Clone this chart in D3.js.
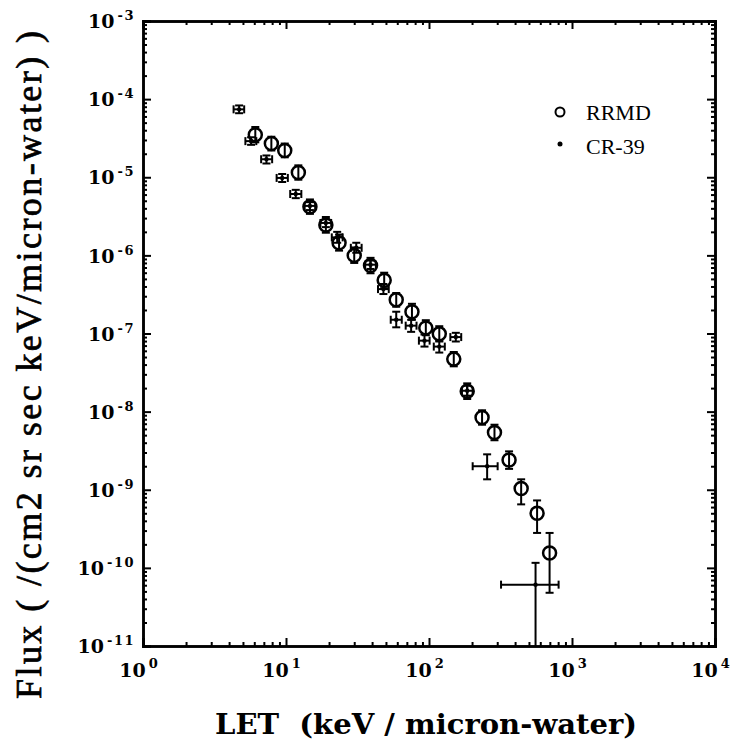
<!DOCTYPE html>
<html>
<head>
<meta charset="utf-8">
<script src="https://cdn.jsdelivr.net/npm/d3@7"></script>
<style>
body { margin: 0; background: #fff; }
svg { font-family: "Liberation Serif", "DejaVu Serif", serif; }
.axis path { stroke: #000; stroke-width: 2.5px; }
.axis line { stroke: #000; stroke-width: 2px; }
.axis text { font-family: "DejaVu Serif", serif; }
.err { stroke: #000; stroke-width: 2px; fill: none; }
</style>
</head>
<body>
<svg width="730" height="748"></svg>
<script>
// RRMD (open circles)
var rrmd_let  = [6.1, 7.9, 9.8, 12.2, 14.7, 19, 23.5, 30, 39, 48.6, 59, 76, 95, 118, 149, 185, 235, 287, 363, 441, 570, 697];
var rrmd_flux = [3.5e-5, 2.7e-5, 2.2e-5, 1.15e-5, 4.2e-6, 2.45e-6, 1.45e-6, 1.0e-6, 7.4e-7, 4.8e-7, 2.7e-7, 1.9e-7, 1.18e-7, 9.9e-8, 4.7e-8, 1.82e-8, 8.4e-9, 5.4e-9, 2.4e-9, 1.04e-9, 5.0e-10, 1.55e-10];
var rrmd_lo   = [2.8e-5, 2.2e-5, 1.8e-5, 9.3e-6, 3.4e-6, 1.95e-6, 1.15e-6, 8.0e-7, 5.9e-7, 3.8e-7, 2.2e-7, 1.5e-7, 9.5e-8, 7.9e-8, 3.8e-8, 1.45e-8, 6.8e-9, 4.3e-9, 1.85e-9, 6.5e-10, 2.8e-10, 4.8e-11];
var rrmd_hi   = [4.4e-5, 3.3e-5, 2.7e-5, 1.42e-5, 5.2e-6, 3.1e-6, 1.85e-6, 1.26e-6, 9.3e-7, 6.0e-7, 3.3e-7, 2.4e-7, 1.48e-7, 1.24e-7, 5.8e-8, 2.3e-8, 1.04e-8, 6.8e-9, 3.1e-9, 1.36e-9, 7.3e-10, 2.8e-10];

// CR-39 (dots with error bars)
var cr39_let    = [4.7, 5.7, 7.3, 9.4, 11.7, 14.7, 19, 22.8, 31, 39, 48, 59, 75, 93, 118, 154, 185, 255, 556];
var cr39_let_lo = [4.3, 5.2, 6.7, 8.6, 10.7, 13.5, 17.4, 20.9, 28.4, 35.8, 44, 54, 68.7, 85, 108, 141, 170, 202, 319];
var cr39_let_hi = [5.1, 6.2, 8.0, 10.3, 12.8, 16.0, 20.7, 24.9, 33.8, 42.5, 52.3, 64.5, 81.8, 101, 129, 168, 202, 302, 806];
var cr39_flux   = [7.4e-5, 2.9e-5, 1.7e-5, 9.8e-6, 6.1e-6, 4.3e-6, 2.6e-6, 1.7e-6, 1.25e-6, 7.6e-7, 3.7e-7, 1.5e-7, 1.26e-7, 8.1e-8, 6.8e-8, 9.0e-8, 1.85e-8, 2.0e-9, 6.1e-11];
var cr39_lo     = [6.6e-5, 2.6e-5, 1.5e-5, 8.7e-6, 5.4e-6, 3.8e-6, 2.3e-6, 1.45e-6, 1.08e-6, 6.7e-7, 3.2e-7, 1.2e-7, 1.05e-7, 6.8e-8, 5.7e-8, 7.9e-8, 1.6e-8, 1.36e-9, 1e-11];
var cr39_hi     = [8.3e-5, 3.25e-5, 1.9e-5, 1.1e-5, 6.9e-6, 4.8e-6, 2.9e-6, 2.0e-6, 1.45e-6, 8.6e-7, 4.3e-7, 1.9e-7, 1.5e-7, 9.7e-8, 8.1e-8, 1.02e-7, 2.15e-8, 2.84e-9, 1.16e-10];

var x_ticks = [1, 10, 100, 1000, 10000];
var x_exps  = ["0", "1", "2", "3", "4"];
var y_ticks = [1e-3, 1e-4, 1e-5, 1e-6, 1e-7, 1e-8, 1e-9, 1e-10, 1e-11];
var y_exps  = ["-3", "-4", "-5", "-6", "-7", "-8", "-9", "-10", "-11"];

var svg = d3.select("svg"),
    margin = {top: 21, right: 15, bottom: 102, left: 143},
    width = +svg.attr("width") - margin.left - margin.right,
    height = +svg.attr("height") - margin.top - margin.bottom;

var x = d3.scaleLog().domain([1, 1e4]).range([0, width]),
    y = d3.scaleLog().domain([1e-11, 1e-3]).range([height, 0]);

var g = svg.append("g")
    .attr("transform", "translate(" + margin.left + "," + margin.top + ")");

// minor tick values
var x_minor = [], y_minor = [];
x_ticks.slice(0, -1).forEach(function(t) { for (var k = 2; k < 10; k++) x_minor.push(t * k); });
y_ticks.slice(1).forEach(function(t) { for (var k = 2; k < 10; k++) y_minor.push(t * k); });

function minor(axis, vals) { return axis.tickValues(vals).tickSize(-4).tickFormat(""); }

g.append("g").attr("class", "axis").attr("transform", "translate(0," + height + ")").call(minor(d3.axisBottom(x), x_minor));
g.append("g").attr("class", "axis").call(minor(d3.axisTop(x), x_minor));
g.append("g").attr("class", "axis").call(minor(d3.axisLeft(y), y_minor));
g.append("g").attr("class", "axis").attr("transform", "translate(" + width + ",0)").call(minor(d3.axisRight(y), y_minor));
g.append("g").attr("class", "axis").call(d3.axisTop(x).tickValues(x_ticks).tickSize(-8).tickFormat(""));
g.append("g").attr("class", "axis").attr("transform", "translate(" + width + ",0)")
    .call(d3.axisRight(y).tickValues(y_ticks).tickSize(-8).tickFormat(""));

// bottom axis with 10^n labels
var xa = g.append("g").attr("class", "axis")
    .attr("transform", "translate(0," + height + ")")
    .call(d3.axisBottom(x).tickValues(x_ticks).tickSize(-8).tickFormat(""));
xa.selectAll(".tick text")
    .attr("x", -5).attr("y", 31).attr("dy", null)
    .style("font-size", "19px").style("font-weight", "bold").attr("fill", "#000")
    .each(function(d, i) {
      var t = d3.select(this);
      t.append("tspan").text("10");
      t.append("tspan").attr("dx", 3).attr("dy", -9).style("font-size", "13px").text(x_exps[i]);
    });

// left axis
var ya = g.append("g").attr("class", "axis")
    .call(d3.axisLeft(y).tickValues(y_ticks).tickSize(-8).tickFormat(""));
ya.selectAll(".tick text")
    .attr("x", -8).attr("dy", "0.35em")
    .style("font-size", "19px").style("font-weight", "bold").attr("fill", "#000")
    .each(function(d, i) {
      var t = d3.select(this);
      t.append("tspan").text("10");
      t.append("tspan").attr("dx", 3).attr("dy", -8).style("font-size", "13px")
        .style("letter-spacing", "1.5px").text(y_exps[i]);
    });

// CR-39 error bars
var cr = g.selectAll(".cr").data(cr39_let).enter().append("g").attr("class", "cr");
cr.append("line").attr("class", "err")
    .attr("x1", function(d, i) { return x(cr39_let_lo[i]); })
    .attr("x2", function(d, i) { return x(cr39_let_hi[i]); })
    .attr("y1", function(d, i) { return y(cr39_flux[i]); })
    .attr("y2", function(d, i) { return y(cr39_flux[i]); });
cr.append("line").attr("class", "err")
    .attr("x1", function(d, i) { return x(cr39_let[i]); })
    .attr("x2", function(d, i) { return x(cr39_let[i]); })
    .attr("y1", function(d, i) { return y(cr39_lo[i]); })
    .attr("y2", function(d, i) { return y(cr39_hi[i]); });
[cr39_let_lo, cr39_let_hi].forEach(function(arr) {
  cr.append("line").attr("class", "err")
      .attr("x1", function(d, i) { return x(arr[i]); })
      .attr("x2", function(d, i) { return x(arr[i]); })
      .attr("y1", function(d, i) { return y(cr39_flux[i]) - 4; })
      .attr("y2", function(d, i) { return y(cr39_flux[i]) + 4; });
});
[cr39_lo, cr39_hi].forEach(function(arr) {
  cr.filter(function(d, i) { return arr[i] > 1e-11; })
    .append("line").attr("class", "err")
      .attr("x1", function(d) { return x(d) - 4; })
      .attr("x2", function(d) { return x(d) + 4; })
      .attr("y1", function(d) { return y(arr[cr39_let.indexOf(d)]); })
      .attr("y2", function(d) { return y(arr[cr39_let.indexOf(d)]); });
});
cr.append("circle")
    .attr("cx", function(d) { return x(d); })
    .attr("cy", function(d, i) { return y(cr39_flux[i]); })
    .attr("r", 2.2).attr("fill", "#000");

// RRMD error bars and circles
var rr = g.selectAll(".rr").data(rrmd_let).enter().append("g").attr("class", "rr");
rr.append("line").attr("class", "err")
    .attr("x1", function(d) { return x(d); })
    .attr("x2", function(d) { return x(d); })
    .attr("y1", function(d, i) { return y(rrmd_lo[i]); })
    .attr("y2", function(d, i) { return y(rrmd_hi[i]); });
[rrmd_lo, rrmd_hi].forEach(function(arr) {
  rr.append("line").attr("class", "err")
      .attr("x1", function(d) { return x(d) - 4; })
      .attr("x2", function(d) { return x(d) + 4; })
      .attr("y1", function(d, i) { return y(arr[i]); })
      .attr("y2", function(d, i) { return y(arr[i]); });
});
rr.append("circle")
    .attr("cx", function(d) { return x(d); })
    .attr("cy", function(d, i) { return y(rrmd_flux[i]); })
    .attr("r", 6.5)
    .attr("fill", "#fff").attr("fill-opacity", 0)
    .attr("stroke", "#000").attr("stroke-width", 2.5);

// legend
var lg = svg.append("g").attr("transform", "translate(560,112)");
lg.append("circle").attr("r", 4.5).attr("fill", "none").attr("stroke", "#000").attr("stroke-width", 2);
lg.append("circle").attr("cy", 32).attr("r", 2.5).attr("fill", "#000");
lg.append("text").attr("x", 26).attr("y", 8).style("font-size", "22px").text("RRMD");
lg.append("text").attr("x", 26).attr("y", 42).style("font-size", "22px").text("CR-39");

// axis titles
svg.append("text")
    .attr("x", 426).attr("y", 734)
    .attr("text-anchor", "middle")
    .style("white-space", "pre")
    .style("font-family", "'DejaVu Serif', serif")
    .style("font-size", "27px").style("font-weight", "bold")
    .attr("textLength", 422).attr("lengthAdjust", "spacingAndGlyphs")
    .text("LET  (keV / micron-water)");

svg.append("text")
    .attr("transform", "translate(41,365) rotate(-90)")
    .attr("text-anchor", "middle")
    .style("font-size", "36px")
    .attr("stroke", "#000").attr("stroke-width", 0.7)
    .attr("textLength", 668).attr("lengthAdjust", "spacing")
    .text("Flux ( /(cm2 sr sec keV/micron-water) )");
</script>
</body>
</html>
